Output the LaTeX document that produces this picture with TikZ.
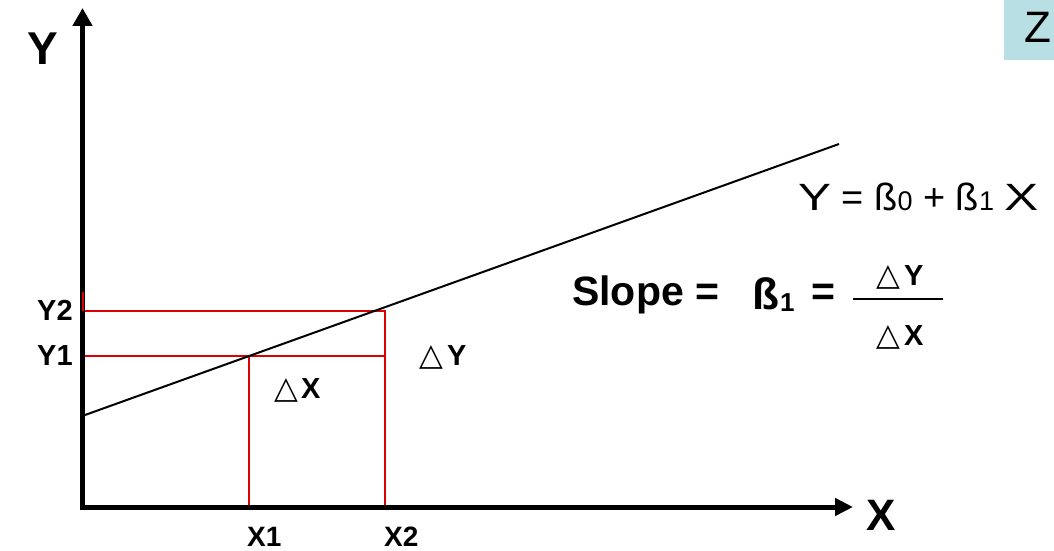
\documentclass[tikz,border=0pt]{standalone}
\usepackage{fontspec}
\setmainfont{Liberation Sans}
\newfontfamily\trifont{DejaVu Sans}
\usetikzlibrary{arrows.meta}
\definecolor{redl}{RGB}{220,0,0}
\definecolor{zbox}{RGB}{184,223,227}
\newcommand\fsz[1]{\fontsize{#1}{#1}\selectfont}
\begin{document}
\begin{tikzpicture}[x=1pt,y=-1pt,
  txt/.style={inner sep=0pt, anchor=base west},
  bl/.style={txt, font=\bfseries\fsz{#1}},
  rg/.style={txt, font=\fsz{#1}},
  tri/.style={txt, font=\trifont\fsz{#1}},
  axis/.style={line width=5pt},
  redline/.style={redl, line width=2pt}]
\useasboundingbox (0,0) rectangle (1054,551);
% Z box
\fill[zbox] (1004,0) rectangle (1054,60);
\node[rg=44] (z) at (1024,42) {Z};
% coordinates
\coordinate (ytip) at (82.5,8);
\coordinate (ybase) at (82.5,509.5);
\coordinate (xstart) at (80,507);
\coordinate (xtip) at (853,507);
\coordinate (y2a) at (82.5,311);
\coordinate (y1a) at (82.5,356);
\coordinate (p2) at (385,311);
\coordinate (q2) at (385,356);
\coordinate (p1) at (249,356);
\coordinate (x1a) at (249,507);
\coordinate (x2a) at (385,507);
\coordinate (la) at (85,415);
\coordinate (lb) at (839,144);
\coordinate (tka) at (82.5,292);
\coordinate (tkb) at (82.5,311);
% red guide lines
\draw[redline] (y2a) -- (p2) -- (x2a);
\draw[redline] (y1a) -- (q2);
\draw[redline] (p1) -- (x1a);
% axes
\draw[axis, -{Triangle[width=19pt,length=18pt]}] (ybase) -- (ytip);
\draw[axis, -{Triangle[width=17pt,length=18pt]}] (xstart) -- (xtip);
\draw[redline] (tka) -- (tkb);
% regression line
\draw[line width=2pt] (la) -- (lb);
% axis labels
\node[bl=46] (ylab) at (27,65) {Y};
\node[bl=44] (xlab) at (866,530) {X};
\node[bl=29] (y2lab) at (37,320) {Y2};
\node[bl=29] (y1lab) at (37,365) {Y1};
\node[bl=28] (x1lab) at (247,546) {X1};
\node[bl=28] (x2lab) at (384,546) {X2};
% delta labels
\node[tri=31] (dyt) at (419,365) {△};
\node[bl=29] (dyl) at (447,365) {Y};
\node[tri=31] (dxt) at (274,398) {△};
\node[bl=29] (dxl) at (301,398) {X};
% equation
\node[rg=38] (eq) at (798,210) {\scalebox{1.3}[1]{Y} = ß{\fsz{27}0} + ß{\fsz{27}1} \scalebox{1.35}[1]{X}};
% slope
\node[bl=41] (slope) at (572,305) {Slope =};
\node[bl=44] (beta) at (752,309) {ß};
\node[bl=26] (one) at (780,311) {1};
\node[bl=41] (eqs) at (811,305) {=};
\node[tri=31] (ft) at (876,285) {△};
\node[bl=29] (fy) at (904,285) {Y};
\coordinate (bara) at (853,299);
\coordinate (barb) at (943,299);
\draw[line width=2pt] (bara) -- (barb);
\node[tri=31] (fbt) at (876,345) {△};
\node[bl=29] (fx) at (904,345) {X};
\end{tikzpicture}
\end{document}
